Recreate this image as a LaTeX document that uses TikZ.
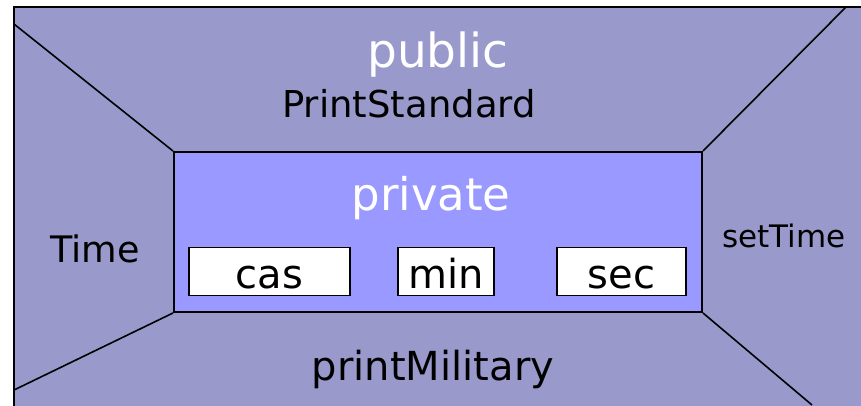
\documentclass[tikz,border=0pt]{standalone}
\usepackage{fontspec}
\setmainfont{DejaVu Sans}

\definecolor{pubfill}{HTML}{9999CC}
\definecolor{privfill}{HTML}{9999FF}

% one data member of the class: position, name, box width, text
\newcommand{\member}[4]
{
	\node[draw,fill=white,line width=1.6pt,inner sep=0pt,minimum width=#3pt,minimum height=48pt,text height=33pt,text depth=0pt,font=\fontsize{40}{48}\selectfont] at (#1) (#2) {#4}
}

\begin{document}
\begin{tikzpicture}[x=1pt,y=-1pt,
	pubtext/.style={anchor=base,font=\fontsize{#1}{#1}\selectfont},
	pubtext/.default=37]
	\useasboundingbox (0,0) rectangle (861,405);
	\clip (0,0) rectangle (861,405);

	%%% Public part
	\draw[fill=pubfill,line width=2pt] (14,7) rectangle (900,440);

	\coordinate (tl) at (14,24);
	\coordinate (tr) at (846,7);
	\coordinate (bl) at (14,390);
	\coordinate (br) at (812,405);

	%%% Private part
	\node[draw,fill=privfill,line width=2pt,inner sep=0pt,minimum width=528pt,minimum height=160pt] at (438,232) (priv) {};

	\draw[line width=1.6pt] (tl) -- (priv.north west);
	\draw[line width=1.6pt] (tr) -- (priv.north east);
	\draw[line width=1.6pt] (bl) -- (priv.south west);
	\draw[line width=1.6pt] (br) -- (priv.south east);

	%%% Members
	\member{269.5,271.5}{cas}{161}{cas};
	\member{446,271.5}{min}{96}{min};
	\member{621.5,271.5}{sec}{129}{sec};

	%%%%%%%%% LABELS
	\node[pubtext=47,text=white] at (438,67) (public) {public};
	\node[pubtext] at (409,117) (std) {PrintStandard};
	\node[pubtext=45,text=white] at (431,210) (private) {private};
	\node[pubtext=36.5] at (95,262) (time) {Time};
	\node[pubtext=31] at (784,247) (settime) {setTime};
	\node[pubtext=40] at (433,380) (mil) {printMilitary};
\end{tikzpicture}
\end{document}
